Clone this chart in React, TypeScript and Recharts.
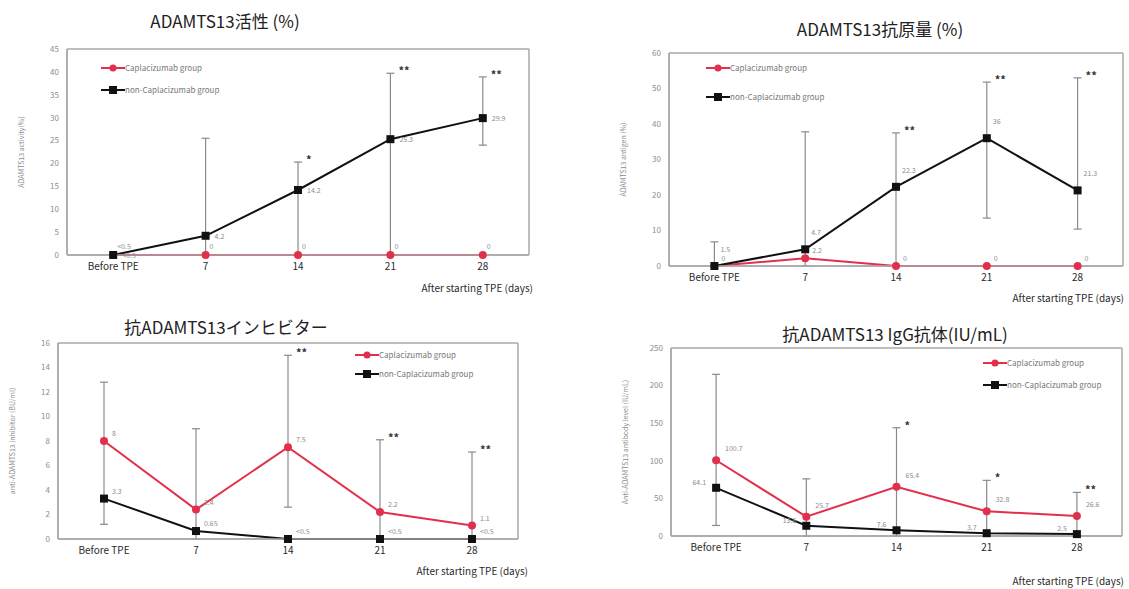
import React from 'react';
import { LineChart, Line, XAxis, YAxis, ErrorBar, LabelList, Legend, CartesianGrid } from 'recharts';

const categories = ['Before TPE', '7', '14', '21', '28'];

// ADAMTS13 activity (%)
const activityCap = [0, 0, 0, 0, 0];
const activityNon = [0, 4.2, 14.2, 25.3, 29.9];
const activityCapLabels = ['<0.5', '0', '0', '0', '0'];
const activityNonLabels = ['<0.5', '4.2', '14.2', '25.3', '29.9'];
const activityErrLow = [0, 0, 0, 0, 24];
const activityErrHigh = [0, 25.5, 20.3, 39.7, 38.9];
const activityStars = ['', '', '*', '**', '**'];
const activityTicks = [0, 5, 10, 15, 20, 25, 30, 35, 40, 45];

// ADAMTS13 antigen (%)
const antigenCap = [0, 2.2, 0, 0, 0];
const antigenNon = [0, 4.7, 22.3, 36, 21.3];
const antigenCapLabels = ['0', '2.2', '0', '0', '0'];
const antigenNonLabels = ['1.5', '4.7', '22.3', '36', '21.3'];
const antigenErrLow = [0, 0, 0, 13.5, 10.4];
const antigenErrHigh = [6.8, 37.8, 37.5, 51.8, 53];
const antigenStars = ['', '', '**', '**', '**'];
const antigenTicks = [0, 10, 20, 30, 40, 50, 60];

// anti-ADAMTS13 inhibitor (BU/ml)
const inhibitorCap = [8, 2.4, 7.5, 2.2, 1.1];
const inhibitorNon = [3.3, 0.65, 0, 0, 0];
const inhibitorCapLabels = ['8', '2.4', '7.5', '2.2', '1.1'];
const inhibitorNonLabels = ['3.3', '0.65', '<0.5', '<0.5', '<0.5'];
const inhibitorErrLow = [1.2, 0, 2.6, 0, 0];
const inhibitorErrHigh = [12.8, 9.0, 15.0, 8.1, 7.1];
const inhibitorStars = ['', '', '**', '**', '**'];
const inhibitorTicks = [0, 2, 4, 6, 8, 10, 12, 14, 16];

// anti-ADAMTS13 IgG antibody (IU/mL)
const iggCap = [100.7, 25.7, 65.4, 32.8, 26.6];
const iggNon = [64.1, 13.6, 7.6, 3.7, 2.5];
const iggCapLabels = ['100.7', '25.7', '65.4', '32.8', '26.6'];
const iggNonLabels = ['64.1', '13.6', '7.6', '3.7', '2.5'];
const iggErrLow = [14, 0, 0, 0, 0];
const iggErrHigh = [215, 76, 144, 74, 58];
const iggStars = ['', '', '*', '*', '**'];
const iggTicks = [0, 50, 100, 150, 200, 250];

const RED = '#e2304c';
const BLACK = '#111111';
const FRAME = '#a8a8a8';

const buildRows = (cap, non, capLab, nonLab, lo, hi, stars) =>
  categories.map((day, i) => ({
    day,
    cap: cap[i],
    non: non[i],
    capLabel: capLab[i],
    nonLabel: nonLab[i],
    errMid: (lo[i] + hi[i]) / 2,
    errHalf: (hi[i] - lo[i]) / 2,
    errTop: hi[i],
    star: stars[i],
  }));

const RedDot = (props) => {
  const { cx, cy } = props;
  if (cx == null || cy == null) return null;
  return <circle cx={cx} cy={cy} r={4} fill={RED} />;
};

const BlackSquare = (props) => {
  const { cx, cy } = props;
  if (cx == null || cy == null) return null;
  return <rect x={cx - 4} y={cy - 4} width={8} height={8} fill={BLACK} />;
};

const smallLabel = (dx, dy, anchor = 'start') => (props) => {
  const { x, y, value } = props;
  if (value == null || value === '') return null;
  return (
    <text x={x + dx} y={y + dy} fontSize={7} fill="#8c8c8c" textAnchor={anchor}>
      {value}
    </text>
  );
};

const starLabel = (props) => {
  const { x, y, value } = props;
  if (!value) return null;
  return (
    <text x={x + 8} y={y + 2} fontSize={11} fontWeight={700} fill="#333">
      {value}
    </text>
  );
};

const yLabel = (text) => (props) => {
  const vb = props.viewBox || {};
  const x = vb.x + 4;
  const y = vb.y + vb.height / 2;
  return (
    <text x={x} y={y} transform={`rotate(-90 ${x} ${y})`} textAnchor="middle" dominantBaseline="central" fontSize={7} fill="#8c8c8c">
      {text}
    </text>
  );
};

const legendContent = (gap) => () => (
  <div style={{ fontSize: 8, color: '#777', lineHeight: `${gap}px` }}>
    <div style={{ display: 'flex', alignItems: 'center', height: gap }}>
      <svg width={24} height={10}>
        <line x1={0} y1={5} x2={24} y2={5} stroke={RED} strokeWidth={2} />
        <circle cx={12} cy={5} r={3.5} fill={RED} />
      </svg>
      <span>Caplacizumab group</span>
    </div>
    <div style={{ display: 'flex', alignItems: 'center', height: gap }}>
      <svg width={24} height={10}>
        <line x1={0} y1={5} x2={24} y2={5} stroke={BLACK} strokeWidth={2} />
        <rect x={8} y={1} width={8} height={8} fill={BLACK} />
      </svg>
      <span>non-Caplacizumab group</span>
    </div>
  </div>
);

// frame around the plot area, taken from the chart's own offset
const frameRows = ({ offset }) => [offset.top, offset.top + offset.height];
const frameCols = ({ offset }) => [offset.left, offset.left + offset.width];

const Panel = ({ rows, plot, ticks, yText, legendAt, legendGap, capOff, nonOff }) => {
  const left = plot.l - 50;
  const top = plot.t - 20;
  const width = plot.r - plot.l + 56;
  const height = plot.b - plot.t + 50;
  return (
    <div style={{ position: 'absolute', left, top }}>
      <LineChart width={width} height={height} data={rows} margin={{ top: 20, right: 6, bottom: 10, left: 0 }}>
        <CartesianGrid
          stroke={FRAME}
          strokeWidth={1.5}
          horizontalCoordinatesGenerator={frameRows}
          verticalCoordinatesGenerator={frameCols}
        />
        <XAxis
          dataKey="day"
          scale="band"
          height={20}
          axisLine={{ stroke: FRAME, strokeWidth: 1.5 }}
          tickLine={false}
          tick={{ fontSize: 10, fill: '#2a2a2a' }}
          interval={0}
        />
        <YAxis
          width={50}
          domain={[0, ticks[ticks.length - 1]]}
          ticks={ticks}
          interval={0}
          axisLine={{ stroke: FRAME, strokeWidth: 1.5 }}
          tickLine={false}
          tick={{ fontSize: 8, fill: '#8c8c8c' }}
          label={{ content: yLabel(yText) }}
        />
        <Legend
          layout="vertical"
          align="center"
          verticalAlign="middle"
          wrapperStyle={{ left: legendAt[0], top: legendAt[1], width: 'auto' }}
          content={legendContent(legendGap)}
        />
        <Line dataKey="errMid" stroke="none" dot={false} activeDot={false} legendType="none" isAnimationActive={false}>
          <ErrorBar dataKey="errHalf" direction="y" width={4} stroke="#8a8a8a" strokeWidth={1.2} />
        </Line>
        <Line dataKey="errTop" stroke="none" dot={false} activeDot={false} legendType="none" isAnimationActive={false}>
          <LabelList dataKey="star" content={starLabel} />
        </Line>
        <Line dataKey="cap" name="Caplacizumab group" stroke={RED} strokeWidth={2} dot={<RedDot />} activeDot={false} isAnimationActive={false}>
          <LabelList dataKey="capLabel" content={smallLabel(capOff[0], capOff[1], capOff[2])} />
        </Line>
        <Line dataKey="non" name="non-Caplacizumab group" stroke={BLACK} strokeWidth={2} dot={<BlackSquare />} activeDot={false} isAnimationActive={false}>
          <LabelList dataKey="nonLabel" content={smallLabel(nonOff[0], nonOff[1], nonOff[2])} />
        </Line>
      </LineChart>
    </div>
  );
};

const Title = ({ x, y, children }) => (
  <div style={{ position: 'absolute', left: x, top: y, transform: 'translate(-50%, -50%)', fontSize: 17, color: '#222', whiteSpace: 'nowrap' }}>
    {children}
  </div>
);

const DaysLabel = ({ x, y }) => (
  <div style={{ position: 'absolute', left: x, top: y, transform: 'translate(-100%, -50%)', fontSize: 10, color: '#2a2a2a', whiteSpace: 'nowrap' }}>
    After starting TPE (days)
  </div>
);

export default function App() {
  const activityRows = buildRows(activityCap, activityNon, activityCapLabels, activityNonLabels, activityErrLow, activityErrHigh, activityStars);
  const antigenRows = buildRows(antigenCap, antigenNon, antigenCapLabels, antigenNonLabels, antigenErrLow, antigenErrHigh, antigenStars);
  const inhibitorRows = buildRows(inhibitorCap, inhibitorNon, inhibitorCapLabels, inhibitorNonLabels, inhibitorErrLow, inhibitorErrHigh, inhibitorStars);
  const iggRows = buildRows(iggCap, iggNon, iggCapLabels, iggNonLabels, iggErrLow, iggErrHigh, iggStars);

  return (
    <div style={{ position: 'absolute', left: 0, top: 0, width: 1129, height: 589, overflow: 'hidden', background: '#fff', fontFamily: '"Noto Sans CJK JP", "Noto Sans", sans-serif' }}>
      <Title x={225} y={20}>ADAMTS13活性 (%)</Title>
      <Title x={880} y={28}>ADAMTS13抗原量 (%)</Title>
      <Title x={226} y={326}>抗ADAMTS13インヒビター</Title>
      <Title x={895} y={333}>抗ADAMTS13 IgG抗体(IU/mL)</Title>

      <Panel
        rows={activityRows}
        plot={{ l: 67, t: 49, r: 529, b: 255 }}
        ticks={activityTicks}
        yText="ADAMTS13 activity(%)"
        legendAt={[84, 28]}
        legendGap={22}
        capOff={[4, -6, 'start']}
        nonOff={[9, 3, 'start']}
      />
      <Panel
        rows={antigenRows}
        plot={{ l: 669, t: 53, r: 1123, b: 266 }}
        ticks={antigenTicks}
        yText="ADAMTS13 antigen (%)"
        legendAt={[87, 20]}
        legendGap={29}
        capOff={[7, -5, 'start']}
        nonOff={[6, -14, 'start']}
      />
      <Panel
        rows={inhibitorRows}
        plot={{ l: 58, t: 343, r: 518, b: 539 }}
        ticks={inhibitorTicks}
        yText="anti-ADAMTS13 inhibitor (BU/ml)"
        legendAt={[347, 22]}
        legendGap={19}
        capOff={[8, -5, 'start']}
        nonOff={[8, -5, 'start']}
      />
      <Panel
        rows={iggRows}
        plot={{ l: 671, t: 348, r: 1122, b: 536 }}
        ticks={iggTicks}
        yText="Anti-ADAMTS13 antibody level (IU/mL)"
        legendAt={[362, 24]}
        legendGap={22}
        capOff={[9, -9, 'start']}
        nonOff={[-10, -3, 'end']}
      />

      <DaysLabel x={533} y={287} />
      <DaysLabel x={1124} y={297} />
      <DaysLabel x={528} y={570} />
      <DaysLabel x={1124} y={580} />
    </div>
  );
}
